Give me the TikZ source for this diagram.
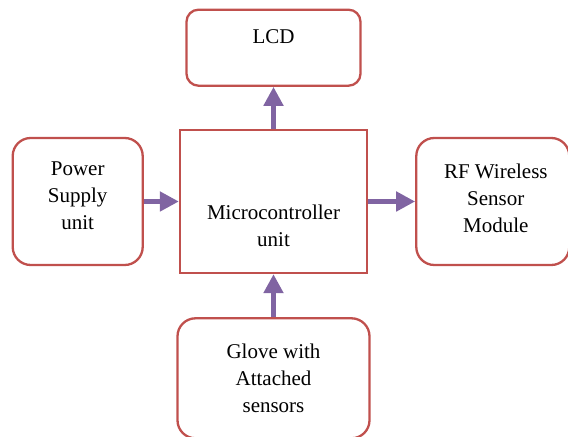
\documentclass[tikz,border=0pt]{standalone}
\usepackage{fontspec}
\setmainfont{Liberation Serif}
\usepackage{tikz}
\usetikzlibrary{arrows.meta, positioning}
\definecolor{boxred}{RGB}{192, 80, 77}
\definecolor{flowpurple}{RGB}{128, 100, 162}

\begin{document}
\begin{tikzpicture}[
    block/.style={rectangle, rounded corners=9pt, draw=boxred, line width=1.15pt,
                  inner sep=0pt},
    core/.style={block, rounded corners=0pt},
    txt/.style={font=\fontsize{10.5}{13.5}\selectfont, align=center, inner sep=0pt},
    flow/.style={-{Triangle[length=9.5pt, width=9.5pt]}, line width=2.7pt, flowpurple},
]
\useasboundingbox (0,0) rectangle (284pt,-218.5pt);

% Blocks
\node[core, minimum width=93.5pt, minimum height=71.5pt] (mcu) at (136.75pt,-100.75pt) {};
\node[block, rounded corners=6pt, minimum width=87pt, minimum height=38pt,
      above=21pt of mcu] (lcd) {};
\node[block, minimum width=65pt, minimum height=63.5pt, left=17.5pt of mcu] (power) {};
\node[block, minimum width=76.5pt, minimum height=63.5pt, right=23.5pt of mcu] (rf) {};
\node[block, minimum width=96pt, minimum height=60pt, below=21.5pt of mcu] (glove) {};

% Labels
\node[txt] (mcutext) at ([yshift=-12pt]mcu.center) {Microcontroller\\unit};
\node[txt] (lcdtext) at ([yshift=-14pt]lcd.north) {LCD};
\node[txt] (powertext) at ([yshift=3pt]power.center) {Power\\Supply\\unit};
\node[txt] (rftext) at ([xshift=1.5pt, yshift=1.5pt]rf.center) {RF Wireless\\Sensor\\Module};
\node[txt] (glovetext) at (glove.center) {Glove with\\Attached\\sensors};

% Flows
\draw[flow] (power) -- (mcu);
\draw[flow] (mcu) -- (rf);
\draw[flow] (mcu) -- (lcd);
\draw[flow] (glove) -- (mcu);

\end{tikzpicture}
\end{document}
